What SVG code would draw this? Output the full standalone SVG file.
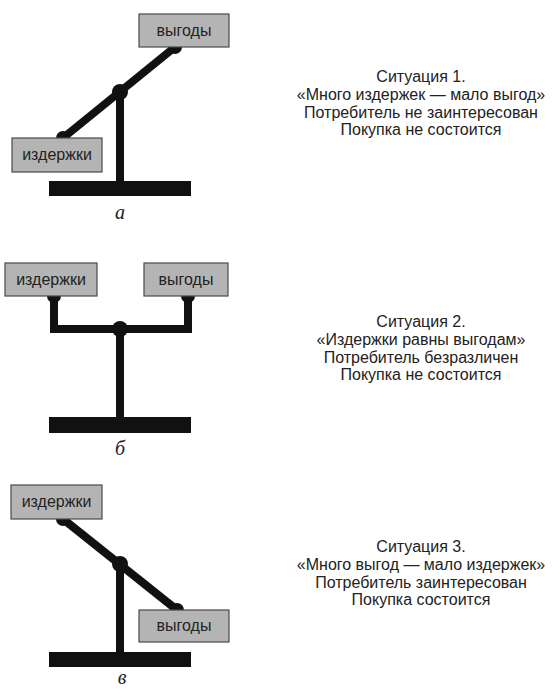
<svg xmlns="http://www.w3.org/2000/svg" width="552" height="693" viewBox="0 0 552 693">
<style>
.box{fill:#b4b4b4;stroke:#4a4a4a;stroke-width:1.2}
.bl{font-family:"Liberation Sans",Arial,sans-serif;font-size:16px;fill:#222;text-anchor:middle}
.beam{stroke:#111;stroke-width:8;fill:none;stroke-linejoin:miter}
.dot{fill:#111}
.base{fill:#111}
.cap{font-family:"Liberation Sans",Arial,sans-serif;font-size:16px;fill:#222;text-anchor:middle}
.lab{font-family:"Liberation Serif","Times New Roman",serif;font-style:italic;font-size:20px;fill:#222;text-anchor:middle}
</style>
<rect width="552" height="693" fill="#fff"/>
<g id="connectors">
  <!-- situation 1 -->
  <line class="beam" x1="120" y1="92" x2="120" y2="182"/>
  <line class="beam" x1="63" y1="138" x2="175" y2="47"/>
  <circle class="dot" cx="63" cy="138" r="7"/>
  <circle class="dot" cx="175" cy="47" r="7"/>
  <circle class="dot" cx="120" cy="92" r="8"/>
  <!-- situation 2 -->
  <line class="beam" x1="120" y1="329" x2="120" y2="418"/>
  <polyline class="beam" points="54,296 54,329 188,329 188,296"/>
  <circle class="dot" cx="54" cy="296" r="7"/>
  <circle class="dot" cx="188" cy="296" r="7"/>
  <circle class="dot" cx="120" cy="329" r="8"/>
  <!-- situation 3 -->
  <line class="beam" x1="120" y1="564" x2="120" y2="653"/>
  <line class="beam" x1="63" y1="519" x2="177" y2="610"/>
  <circle class="dot" cx="63" cy="519" r="7"/>
  <circle class="dot" cx="177" cy="610" r="7"/>
  <circle class="dot" cx="120" cy="564" r="8"/>
</g>
<g id="s1-vygody"><rect class="box" x="139" y="14" width="90" height="33"/><text class="bl" x="184" y="36">выгоды</text></g>
<g id="s1-izderzhki"><rect class="box" x="12" y="138" width="90" height="34"/><text class="bl" x="57" y="160">издержки</text></g>
<g id="s1-base"><rect class="base" x="49" y="181" width="142" height="15"/><text class="lab" x="120" y="219">а</text></g>
<g id="s1-text">
  <text class="cap" x="421" y="82">Ситуация 1.</text>
  <text class="cap" x="421" y="100">«Много издержек — мало выгод»</text>
  <text class="cap" x="421" y="117.5">Потребитель не заинтересован</text>
  <text class="cap" x="421" y="135">Покупка не состоится</text>
</g>
<g id="s2-izderzhki"><rect class="box" x="5" y="263" width="92" height="33"/><text class="bl" x="51" y="285">издержки</text></g>
<g id="s2-vygody"><rect class="box" x="144" y="263" width="84" height="33"/><text class="bl" x="186" y="285">выгоды</text></g>
<g id="s2-base"><rect class="base" x="49" y="417" width="142" height="16"/><text class="lab" x="120" y="455">б</text></g>
<g id="s2-text">
  <text class="cap" x="421" y="327">Ситуация 2.</text>
  <text class="cap" x="421" y="345">«Издержки равны выгодам»</text>
  <text class="cap" x="421" y="362.5">Потребитель безразличен</text>
  <text class="cap" x="421" y="380">Покупка не состоится</text>
</g>
<g id="s3-izderzhki"><rect class="box" x="11" y="485" width="91" height="34"/><text class="bl" x="56.5" y="507">издержки</text></g>
<g id="s3-vygody"><rect class="box" x="139" y="610" width="90" height="32"/><text class="bl" x="184" y="631">выгоды</text></g>
<g id="s3-base"><rect class="base" x="49" y="652" width="142" height="15"/><text class="lab" x="122" y="684">в</text></g>
<g id="s3-text">
  <text class="cap" x="421" y="552">Ситуация 3.</text>
  <text class="cap" x="421" y="570">«Много выгод — мало издержек»</text>
  <text class="cap" x="421" y="587.5">Потребитель заинтересован</text>
  <text class="cap" x="421" y="605">Покупка состоится</text>
</g>
</svg>
